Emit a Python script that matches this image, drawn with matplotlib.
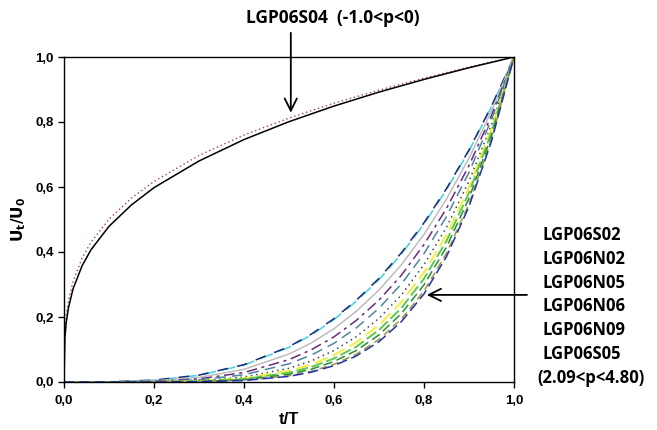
import matplotlib
matplotlib.use("Agg")
import matplotlib.pyplot as plt

plt.rcParams['font.family'] = ['Liberation Sans', 'DejaVu Sans']

# upper group (LGP06S04)
t_up = [0, 0.002, 0.005, 0.01, 0.02, 0.04, 0.06, 0.1, 0.15, 0.2, 0.3, 0.4, 0.5, 0.6, 0.7, 0.8, 0.9, 1.0]
s04_solid = [0, 0.137, 0.184, 0.229, 0.286, 0.357, 0.407, 0.479, 0.545, 0.598, 0.680, 0.746, 0.801, 0.849, 0.892, 0.931, 0.967, 1.0]
s04_dot = [0, 0.155, 0.204, 0.251, 0.309, 0.381, 0.430, 0.501, 0.566, 0.617, 0.697, 0.760, 0.812, 0.858, 0.898, 0.935, 0.969, 1.0]

# lower group
t_lo = [0, 0.1, 0.2, 0.3, 0.4, 0.5, 0.55, 0.6, 0.65, 0.7, 0.75, 0.8, 0.85, 0.9, 0.95, 1.0]
navy = [0, 0.0006, 0.0058, 0.0212, 0.0533, 0.1088, 0.1477, 0.195, 0.252, 0.319, 0.398, 0.490, 0.595, 0.714, 0.849, 1.0]
cyan = [0, 0.0005, 0.0055, 0.0205, 0.0520, 0.1065, 0.1450, 0.192, 0.249, 0.315, 0.394, 0.486, 0.592, 0.711, 0.847, 1.0]
gray = [0, 0.0003, 0.0034, 0.0141, 0.0390, 0.0860, 0.1205, 0.164, 0.218, 0.283, 0.361, 0.454, 0.563, 0.689, 0.834, 1.0]
purple = [0, 0.0001, 0.0020, 0.0096, 0.0291, 0.0689, 0.0995, 0.139, 0.190, 0.252, 0.329, 0.423, 0.534, 0.666, 0.820, 1.0]
teal = [0, 0.0001, 0.0012, 0.0067, 0.0221, 0.0560, 0.0832, 0.119, 0.167, 0.227, 0.302, 0.395, 0.509, 0.645, 0.808, 1.0]
dotted = [0, 0.0, 0.0006, 0.0041, 0.0152, 0.0421, 0.0651, 0.0969, 0.140, 0.196, 0.268, 0.361, 0.476, 0.618, 0.791, 1.0]
yellow = [0, 0.0, 0.0004, 0.0028, 0.0114, 0.0340, 0.0541, 0.0827, 0.122, 0.175, 0.246, 0.337, 0.452, 0.598, 0.779, 1.0]
lgreen = [0, 0.0, 0.0003, 0.0021, 0.0090, 0.0284, 0.0463, 0.0724, 0.109, 0.160, 0.228, 0.318, 0.434, 0.582, 0.768, 1.0]
dgreen = [0, 0.0, 0.0002, 0.0015, 0.0070, 0.0235, 0.0394, 0.0631, 0.0972, 0.145, 0.211, 0.299, 0.415, 0.565, 0.757, 1.0]
olive = [0, 0.0, 0.0001, 0.0010, 0.0054, 0.0192, 0.0331, 0.0544, 0.0858, 0.131, 0.194, 0.280, 0.396, 0.548, 0.747, 1.0]
blue = [0, 0.0, 0.0001, 0.0009, 0.0047, 0.0173, 0.0303, 0.0504, 0.0804, 0.124, 0.186, 0.271, 0.386, 0.540, 0.741, 1.0]

ticks = [0.0, 0.2, 0.4, 0.6, 0.8, 1.0]
tick_labels = ['0,0', '0,2', '0,4', '0,6', '0,8', '1,0']
specimens = ['LGP06S02', 'LGP06N02', 'LGP06N05', 'LGP06N06', 'LGP06N09', 'LGP06S05', '(2.09<p<4.80)']

fig = plt.figure(figsize=(6.57, 4.30), dpi=100)
ax = fig.add_axes([64 / 657, 48 / 430, 450 / 657, 325 / 430])

lw = 1.1
ax.plot(t_lo, cyan, color='#3fd0e0', lw=lw, linestyle=(0, (9, 4)))
ax.plot(t_lo, navy, color='#1c2a78', lw=lw, linestyle=(3, (7, 6)))
ax.plot(t_lo, gray, color='#bdbdbd', lw=lw)
ax.plot(t_lo, purple, color='#6b2a7d', lw=lw, linestyle=(0, (7, 3, 2, 3)))
ax.plot(t_lo, teal, color='#4a86a0', lw=lw, linestyle=(0, (7, 4)))
ax.plot(t_lo, dotted, color='#444444', lw=lw, linestyle=(0, (1, 2.5)))
ax.plot(t_lo, yellow, color='#f2ef3a', lw=lw + 0.3, linestyle=(0, (7, 3)))
ax.plot(t_lo, lgreen, color='#5cc84a', lw=lw + 0.3, linestyle=(0, (6, 2)))
ax.plot(t_lo, dgreen, color='#2c8a3c', lw=lw, linestyle=(0, (6, 3)))
ax.plot(t_lo, olive, color='#9c9a3a', lw=lw, linestyle=(0, (5, 3)))
ax.plot(t_lo, blue, color='#2232b0', lw=lw, linestyle=(0, (7, 3)))

ax.plot(t_up, s04_dot, color='#a04050', lw=1.0, linestyle=(0, (1, 2)))
ax.plot(t_up, s04_solid, color='black', lw=1.1)

ax.set_xlim(0, 1)
ax.set_ylim(0, 1)
ax.set_xticks(ticks)
ax.set_xticklabels(tick_labels)
ax.set_yticks(ticks)
ax.set_yticklabels(tick_labels)
ax.tick_params(direction='out', length=4, width=1, labelsize=9.5)
ax.tick_params(axis='x', pad=5)
for lab in ax.get_xticklabels() + ax.get_yticklabels():
    lab.set_fontweight('bold')
for sp in ax.spines.values():
    sp.set_linewidth(1.0)

ax.set_xlabel('t/T', fontsize=12, fontweight='bold', labelpad=4)
ax.set_ylabel(r'$\mathbf{U_t/U_0}$', fontsize=11, labelpad=5)

# annotations
ax.annotate('', xy=(0.504, 0.82), xytext=(0.504, 1.083),
            arrowprops=dict(arrowstyle='->', color='black', lw=1.3,
                            mutation_scale=22), annotation_clip=False)
fig.text(246 / 657, 1 - 18 / 430, 'LGP06S04  (-1.0<p<0)', fontsize=12.5, fontweight='bold',
         family=['Open Sans', 'DejaVu Sans'], va='center')

ax.annotate('', xy=(0.8, 0.268), xytext=(1.035, 0.268),
            arrowprops=dict(arrowstyle='->', color='black', lw=1.3,
                            mutation_scale=22), annotation_clip=False)
for i, s in enumerate(specimens):
    x0 = 537 if s.startswith('(') else 542
    fig.text(x0 / 657, 1 - (235 + 23.8 * i) / 430, s, fontsize=12,
             fontweight='bold', family=['Open Sans', 'DejaVu Sans'], va='center')

fig.savefig('out.png', dpi=100)
